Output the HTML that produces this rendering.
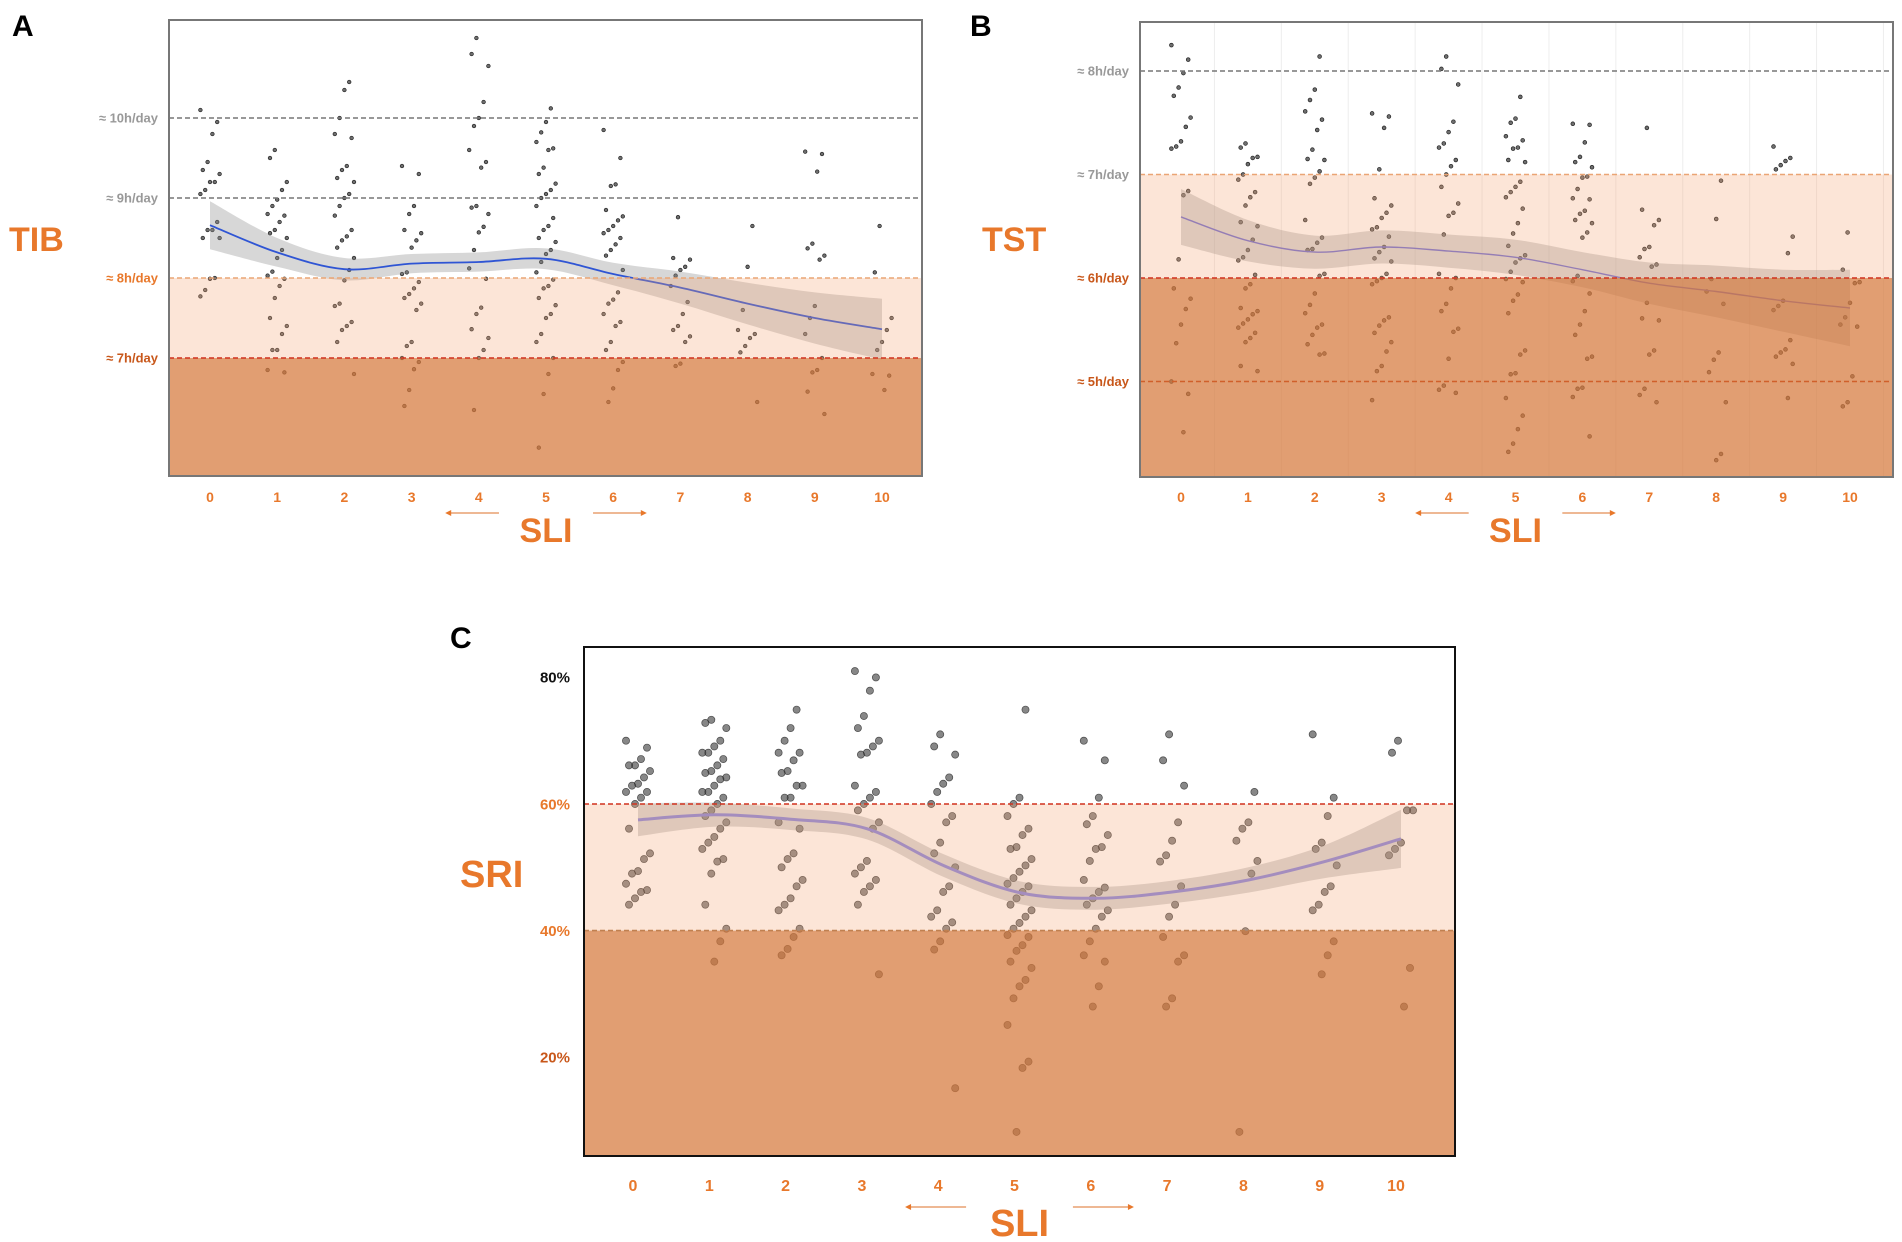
<!DOCTYPE html>
<html><head><meta charset="utf-8"><style>
html,body{margin:0;padding:0;background:#fff;width:1902px;height:1242px;overflow:hidden}
svg text{font-family:"Liberation Sans",sans-serif}
</style></head><body>
<svg id="fig" width="1902" height="1242" viewBox="0 0 1902 1242" xmlns="http://www.w3.org/2000/svg">
<text x="12" y="36" font-family="Liberation Serif" font-weight="bold" font-size="30">A</text>
<text x="970" y="36" font-family="Liberation Serif" font-weight="bold" font-size="30">B</text>
<text x="450" y="648" font-family="Liberation Serif" font-weight="bold" font-size="30">C</text>
</svg>
<script>
// ---------- Panel A data (TIB, hours) ----------
const catsA = [0,1,2,3,4,5,6,7,8,9,10];
const tibPoints = [
[10.1,9.95,9.8,9.45,9.35,9.3,9.2,9.2,9.1,9.05,8.7,8.6,8.6,8.5,8.5,8.0,7.99,7.85,7.77],
[9.6,9.5,9.2,9.1,8.98,8.9,8.8,8.78,8.7,8.6,8.56,8.5,8.35,8.25,8.08,8.03,7.99,7.9,7.75,7.5,7.4,7.3,7.1,7.1,6.85,6.82],
[10.45,10.35,10,9.8,9.75,9.4,9.35,9.25,9.2,9.05,9,8.9,8.78,8.6,8.52,8.47,8.38,8.25,8.1,7.97,7.68,7.65,7.45,7.4,7.35,7.2,6.8],
[9.4,9.3,8.9,8.8,8.6,8.56,8.47,8.38,8.07,8.05,7.95,7.87,7.8,7.75,7.68,7.6,7.2,7.15,7.0,6.95,6.86,6.6,6.4],
[11.0,10.8,10.65,10.2,10.0,9.9,9.6,9.45,9.38,8.9,8.88,8.8,8.64,8.57,8.35,8.12,7.99,7.63,7.55,7.36,7.25,7.1,7.0,6.35],
[10.12,9.95,9.82,9.7,9.62,9.6,9.38,9.3,9.18,9.1,9.05,9,8.9,8.75,8.65,8.6,8.5,8.45,8.35,8.3,8.2,8.07,7.98,7.9,7.87,7.75,7.66,7.55,7.5,7.3,7.2,7.0,6.8,6.55,5.88],
[9.85,9.5,9.17,9.15,8.85,8.77,8.72,8.65,8.6,8.56,8.5,8.42,8.35,8.28,8.1,7.82,7.73,7.68,7.55,7.45,7.4,7.2,7.1,6.95,6.85,6.62,6.45],
[8.76,8.25,8.23,8.14,8.1,8.03,7.9,7.7,7.55,7.4,7.35,7.27,7.2,6.93,6.9],
[8.65,8.14,7.6,7.35,7.3,7.25,7.15,7.07,6.45],
[9.58,9.55,9.33,8.43,8.37,8.28,8.23,7.65,7.5,7.3,7.0,6.85,6.82,6.58,6.3],
[8.65,8.07,7.5,7.35,7.2,7.1,6.8,6.78,6.6]];
const tibFit = [8.66,8.32,8.11,8.18,8.2,8.24,8.05,7.88,7.68,7.5,7.36];
const tibCI = [0.3,0.18,0.14,0.12,0.12,0.13,0.14,0.2,0.26,0.32,0.38];
const tibRefs = [10,9,8,7];
const tibRefLabels = ["≈ 10h/day","≈ 9h/day","≈ 8h/day","≈ 7h/day"];

// ---------- Panel B data (TST, hours) ----------
const tstPoints = [
[8.25,8.11,7.98,7.84,7.76,7.55,7.46,7.32,7.27,7.25,6.84,6.8,6.18,5.9,5.8,5.7,5.55,5.37,5.0,4.88,4.51],
[7.3,7.26,7.17,7.16,7.1,7.0,6.95,6.83,6.78,6.7,6.54,6.5,6.37,6.27,6.2,6.17,6.03,5.94,5.9,5.71,5.68,5.65,5.6,5.56,5.52,5.47,5.42,5.38,5.15,5.1],
[8.14,7.82,7.72,7.61,7.53,7.43,7.24,7.15,7.14,7.03,6.97,6.91,6.56,6.39,6.34,6.28,6.27,6.04,6.02,5.85,5.74,5.66,5.55,5.52,5.45,5.36,5.27,5.26],
[7.59,7.56,7.45,7.05,6.77,6.7,6.63,6.58,6.49,6.47,6.4,6.3,6.25,6.19,6.16,6.04,6.0,5.97,5.94,5.62,5.59,5.54,5.47,5.38,5.29,5.15,5.1,4.82],
[8.14,8.02,7.87,7.51,7.41,7.3,7.26,7.14,7.08,7.0,6.88,6.72,6.63,6.6,6.42,6.04,6.0,5.9,5.75,5.68,5.51,5.48,5.22,4.96,4.92,4.89],
[7.75,7.54,7.5,7.37,7.33,7.26,7.25,7.14,7.12,6.93,6.88,6.83,6.78,6.67,6.53,6.43,6.31,6.22,6.19,6.15,6.06,5.99,5.96,5.84,5.78,5.66,5.3,5.26,5.08,5.07,4.84,4.67,4.54,4.4,4.32],
[7.49,7.48,7.31,7.17,7.12,7.07,6.98,6.97,6.86,6.77,6.76,6.65,6.62,6.56,6.53,6.44,6.39,6.02,5.97,5.85,5.68,5.55,5.45,5.24,5.22,4.94,4.93,4.85,4.47],
[7.45,6.66,6.56,6.51,6.3,6.28,6.2,6.13,6.11,5.76,5.61,5.59,5.3,5.26,4.93,4.87,4.8],
[6.94,6.57,5.99,5.87,5.75,5.28,5.21,5.09,4.8,4.3,4.24],
[7.27,7.16,7.13,7.09,7.05,6.4,6.24,5.78,5.73,5.69,5.4,5.31,5.28,5.24,5.17,4.84],
[6.44,6.08,5.96,5.95,5.76,5.62,5.55,5.53,5.05,4.8,4.76]];
const tstFit = [6.59,6.36,6.25,6.3,6.26,6.2,6.08,5.95,5.87,5.78,5.71];
const tstCI = [0.27,0.2,0.16,0.16,0.16,0.17,0.17,0.2,0.25,0.3,0.37];
const tstRefs = [8,7,6,5];
const tstRefLabels = ["≈ 8h/day","≈ 7h/day","≈ 6h/day","≈ 5h/day"];

// ---------- Panel C data (SRI, %) ----------
const sriPoints = [
[70,68.9,67.1,66.1,66.1,65.2,64.2,63.2,62.9,61.9,61.9,61,60,56.1,52.2,51.3,49.4,49,47.4,46.4,46.1,45.1,44.1],
[73.3,72.8,72,70,69.1,68.1,68.1,67.1,66.1,65.2,64.9,64.2,63.9,62.9,61.9,61.9,61,60,59,58.1,57.1,56.1,54.8,53.9,52.9,51.3,50.9,49,44.1,40.3,38.3,35.1],
[74.9,72,70,68.1,68.1,66.9,65.2,64.9,62.9,62.9,61,61,57.1,56.1,52.2,51.3,50,48,47,45.1,44.1,43.2,40.3,39,37.1,36.1],
[81,80,77.9,73.9,72,70,69.1,68.1,67.8,62.9,61.9,61,60,59,57.1,56.1,51,50,49,48,47,46.1,44.1,33.1],
[71,69.1,67.8,64.2,63.2,61.9,60,58.1,57.1,53.9,52.2,50,47,46.1,43.2,42.2,41.3,40.3,38.3,37,15.1],
[74.9,61,60,58.1,56.1,55.1,53.2,52.9,51.3,50.3,49.3,48.3,47.4,47,46.1,45.1,44.1,43.2,42.2,41.2,40.3,39.3,39,37.7,36.8,35.1,34.1,32.2,31.2,29.3,25.1,19.3,18.3,8.2],
[70,66.9,61,58.1,56.8,55.1,53.2,52.9,51,48,46.8,46.1,45.1,44.1,43.2,42.2,40.3,38.3,36.1,35.1,31.2,28],
[71,66.9,62.9,57.1,54.2,51.9,50.9,47,44.1,42.2,39,36.1,35.1,29.3,28],
[61.9,57.1,56.1,54.2,51,49,39.9,8.2],
[71,61,58.1,53.9,52.9,50.3,47,46.1,44.1,43.2,38.3,36.1,33.1],
[70,68.1,59,59,53.9,52.9,51.9,34.1,28]];
const sriFit = [57.5,58.3,57.6,56.1,50.3,46.0,45.1,46.1,48.0,50.9,54.5];
const sriCI = [2.6,1.9,1.7,1.7,1.8,1.8,1.8,1.8,2.0,2.6,4.6];
const sriRefs = [60,40];
const sriTicks = [80,60,40,20];
const sriTickLabels = ["80%","60%","40%","20%"];

const NS = "http://www.w3.org/2000/svg";
const svg = document.getElementById('fig');
function mk(tag, attrs, parent){const e=document.createElementNS(NS,tag);for(const k in attrs)e.setAttribute(k,attrs[k]);(parent||svg).appendChild(e);return e;}
function smooth(pts){let d="M"+pts[0][0]+","+pts[0][1];for(let i=0;i<pts.length-1;i++){const p0=pts[Math.max(0,i-1)],p1=pts[i],p2=pts[i+1],p3=pts[Math.min(pts.length-1,i+2)];const c1=[p1[0]+(p2[0]-p0[0])/6,p1[1]+(p2[1]-p0[1])/6],c2=[p2[0]-(p3[0]-p1[0])/6,p2[1]-(p3[1]-p1[1])/6];d+=" C"+c1[0].toFixed(1)+","+c1[1].toFixed(1)+" "+c2[0].toFixed(1)+","+c2[1].toFixed(1)+" "+p2[0].toFixed(1)+","+p2[1].toFixed(1);}return d;}
function smoothCont(pts){return smooth(pts).replace(/^M/,"L");}

function panel(cfg){
  const g=mk('g',{});
  
  
  const X=c=>cfg.x0+c*cfg.dx, Y=v=>cfg.yRef-(v-cfg.vRef)*cfg.ppu;
  mk('rect',{x:cfg.L,y:cfg.T,width:cfg.R-cfg.L,height:cfg.B-cfg.T,fill:'#fff'},g);
  if(cfg.vgrid){for(let c=0;c<=10;c++){mk('line',{x1:X(c)+cfg.dx/2,x2:X(c)+cfg.dx/2,y1:cfg.T,y2:cfg.B,stroke:'#eee','stroke-width':1},g);}}
  cfg.points.forEach((arr,c)=>{arr.forEach((v,i)=>{
    const j=(((i*7+c*3)%9)-4)*cfg.jit;
    const p=mk('circle',{cx:X(c)+j,cy:Y(v),r:cfg.r,fill:cfg.dotFill,stroke:cfg.dotStroke,'stroke-width':0.7},g);
    
    
  });});
  const up=cfg.fit.map((v,c)=>[X(c),Y(v+cfg.ci[c])]), lo=cfg.fit.map((v,c)=>[X(c),Y(v-cfg.ci[c])]).reverse();
  const rib=mk('path',{d:smooth(up)+" L"+lo[0][0]+","+lo[0][1]+" "+smoothCont(lo).slice(1)+" Z",fill:'rgba(140,140,140,0.35)'},g);
  
  
  const ln=mk('path',{d:smooth(cfg.fit.map((v,c)=>[X(c),Y(v)])),fill:'none',stroke:cfg.lineColor,'stroke-width':cfg.lw},g);
  
  
  const f1=mk('rect',{x:cfg.L,y:Y(cfg.lightTop),width:cfg.R-cfg.L,height:Y(cfg.lightBot)-Y(cfg.lightTop),fill:'rgba(245,160,110,0.28)'},g);
  
  
  const f2=mk('rect',{x:cfg.L,y:Y(cfg.lightBot),width:cfg.R-cfg.L,height:cfg.B-Y(cfg.lightBot),fill:'rgba(214,120,60,0.72)'},g);
  
  
  cfg.refs.forEach((v,i)=>{
    const l=mk('line',{x1:cfg.L,x2:cfg.R,y1:Y(v),y2:Y(v),stroke:cfg.refColors[i],'stroke-width':1.6,'stroke-dasharray':'5,3'},g);
    
    
  });
  mk('rect',{x:cfg.L,y:cfg.T,width:cfg.R-cfg.L,height:cfg.B-cfg.T,fill:'none',stroke:cfg.frame,'stroke-width':2},g);
  cfg.yVals.forEach((v,i)=>{
    const t=mk('text',{x:cfg.L-cfg.ylabOff,y:Y(v)+cfg.yfs*0.35,'text-anchor':'end','font-size':cfg.yfs,'font-weight':'bold',fill:cfg.yColors[i]},g);
    t.textContent=cfg.yLabels[i];
    
    
  });
  for(let c=0;c<=10;c++){
    const t=mk('text',{x:X(c)-cfg.xlabShift,y:cfg.xlabY,'text-anchor':'middle','font-size':cfg.xfs,'font-weight':'bold',fill:'#e8782b'},g);
    t.textContent=String(catsA[c]);
    
    
  }
  const mid=X(5);
  mk('line',{x1:mid-cfg.dx*1.5+4,x2:mid-cfg.dx*0.7,y1:cfg.arrowY,y2:cfg.arrowY,stroke:'#e8a070','stroke-width':1.5},g);
  mk('path',{d:`M${mid-cfg.dx*1.5} ${cfg.arrowY} l6 -3 v6 z`,fill:'#e8782b'},g);
  mk('line',{x1:mid+cfg.dx*0.7,x2:mid+cfg.dx*1.5-4,y1:cfg.arrowY,y2:cfg.arrowY,stroke:'#e8a070','stroke-width':1.5},g);
  mk('path',{d:`M${mid+cfg.dx*1.5} ${cfg.arrowY} l-6 -3 v6 z`,fill:'#e8782b'},g);
  const xt=mk('text',{x:mid,y:cfg.sliY,'text-anchor':'middle','font-size':cfg.titleFs,'font-weight':'bold',fill:'#e8782b'},g);
  xt.textContent='SLI';
  
  
  const yt=mk('text',{x:cfg.ytX,y:cfg.ytY,'font-size':cfg.titleFs,'font-weight':'bold',fill:'#e8782b'},g);
  yt.textContent=cfg.ytitle;
  
  
}

panel({name:'panel-a-tib',L:169,R:922,T:20,B:476,x0:210,dx:67.2,yRef:278,vRef:8,ppu:80,
  points:tibPoints,fit:tibFit,ci:tibCI,r:1.8,jit:2.4,dotFill:'rgba(50,50,50,0.7)',dotStroke:'#222',
  lineColor:'#2f55d4',lw:1.8,lightTop:8,lightBot:7,refs:tibRefs,refColors:['#777','#777','#eaa575','#d0321e'],
  frame:'#777',yVals:tibRefs,yLabels:tibRefLabels,yColors:['#999','#999','#e8782b','#c8571a'],yfs:13,ylabOff:11,
  xlabY:502,xfs:14,xlabShift:0,arrowY:513,sliY:542,titleFs:34,ytitle:'TIB',ytX:9,ytY:251});
panel({name:'panel-b-tst',L:1140,R:1893,T:22,B:477,x0:1181,dx:66.9,yRef:71,vRef:8,ppu:103.5,vgrid:true,
  points:tstPoints,fit:tstFit,ci:tstCI,r:1.9,jit:2.4,dotFill:'rgba(50,50,50,0.7)',dotStroke:'#222',
  lineColor:'#7070d0',lw:1.4,lightTop:7,lightBot:6,refs:tstRefs,refColors:['#777','#eaa575','#d0321e','#d0602a'],
  frame:'#777',yVals:tstRefs,yLabels:tstRefLabels,yColors:['#999','#999','#c8571a','#c8571a'],yfs:13,ylabOff:11,
  xlabY:502,xfs:14,xlabShift:0,arrowY:513,sliY:542,titleFs:34,ytitle:'TST',ytX:982,ytY:251});
panel({name:'panel-c-sri',L:584,R:1455,T:647,B:1156,x0:638,dx:76.3,yRef:804,vRef:60,ppu:6.33,
  points:sriPoints,fit:sriFit,ci:sriCI,r:3.6,jit:3,dotFill:'rgba(70,70,70,0.65)',dotStroke:'rgba(30,30,30,0.7)',
  lineColor:'#8585dd',lw:3,lightTop:60,lightBot:40,refs:sriRefs,refColors:['#d0321e','#c08050'],
  frame:'#111',yVals:sriTicks,yLabels:sriTickLabels,yColors:['#111','#e8782b','#e8782b','#c8571a'],yfs:15,ylabOff:14,
  xlabY:1191,xfs:16,xlabShift:5,arrowY:1207,sliY:1236,titleFs:38,ytitle:'SRI',ytX:460,ytY:887});
</script>
</body></html>
